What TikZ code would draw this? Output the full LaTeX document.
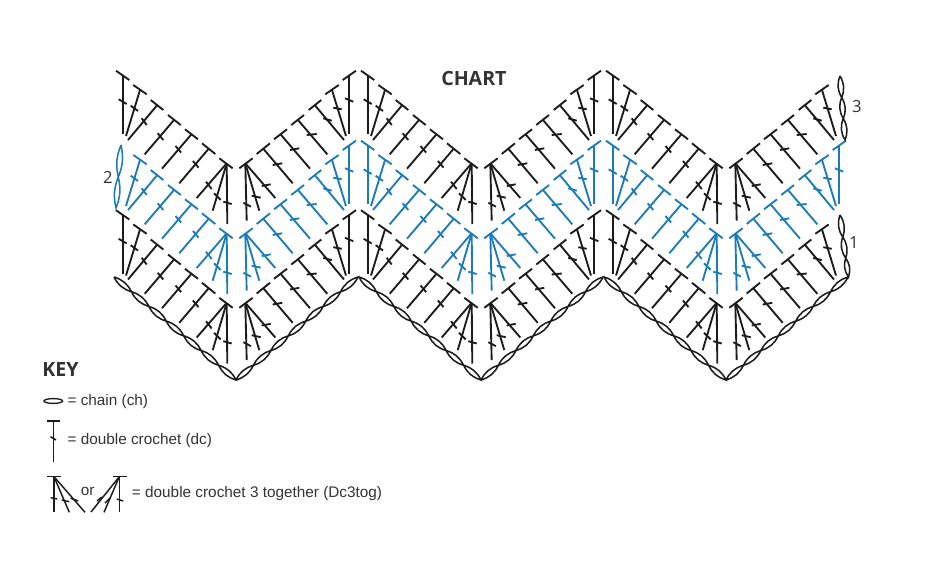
\documentclass[tikz,border=0pt]{standalone}
\usepackage{fontspec}
\setmainfont{Liberation Sans}
\newfontfamily\headfont{Open Sans}
\definecolor{inkblack}{HTML}{1C1C1C}
\definecolor{inkblue}{HTML}{1B7CB8}
\definecolor{inktext}{HTML}{333333}
\newcommand\segs[1]{\foreach \ax/\ay/\bx/\by in {#1}{\draw[stroke] (\ax,\ay) -- (\bx,\by);}}
\newcommand\leftone{\segs{116/70.7/129.3/80, 122.7/75.5/122.7/134, 118.7/99.3/126.7/104}}
\newcommand\rightone{\segs{342.7/80/356/70.7, 349.3/75.5/349.3/134, 345/98.3/353.3/101.7}}
\newcommand\lefthalf{\segs{
 133.3/85/146.7/94.3, 140/90/126/136, 130.7/105.7/138/111,
 150.7/100/163.3/110, 157.3/105/128/140, 141.7/118.3/146.7/125,
 168/115/180.7/125, 174/120/144.7/154.3, 157.7/133.3/163.3/140,
 185/129.3/198/139.3, 191.7/134/162/168.7, 175.5/146/181.1/152.6,
 202/143.3/215.3/154, 208.7/148.7/179.3/183.3, 192.9/161/198.5/167.6,
 219.3/158.3/232.7/168.3, 226.7/163.3/196.7/198, 226.7/163.3/212.7/210.7, 226.7/163.3/227.3/224,
 206/181.7/211.7/189, 214/193.3/220.7/200, 223.3/201.7/231.7/204}}
\newcommand\righthalf{\segs{
 239.3/168.3/252.7/158.3, 245.3/163.3/246.7/220.7, 245.3/163.3/259.3/210.7, 245.3/163.3/275.3/198,
 243.3/202.7/251/206.7, 251.7/195.7/260.7/197.7, 261.7/186/270.7/184.3,
 256.7/154/270/143.3, 263.3/148.7/292.7/183.3, 272.7/165/282.3/163.3,
 274/139.3/287/129.3, 280.3/134/310/168.7, 290/150/299.3/148.3,
 291.3/125/304/115, 298/120/327.3/154.3, 306.7/135/316.7/134,
 308.7/110/321.3/100, 314.7/105/344/140, 323.3/118.3/331.7/120.7,
 325.3/94.3/338.7/85, 332/90/346/136, 333.3/107.7/341.7/109.3}}
\newcommand\lens[5]{\draw[loopline] (#1,#2) to[bend left=#5] (#3,#4) to[bend left=#5] (#1,#2);}
\begin{document}
\begin{tikzpicture}[x=0.75pt,y=-0.75pt,
  stroke/.style={line width=1.4pt,line cap=butt},
  loopline/.style={line width=1.15pt,inkblack},
  keytext/.style={inner sep=0pt,anchor=base west,text=inktext,font=\fontsize{11.5pt}{13pt}\selectfont},
  numlabel/.style={inner sep=0pt,anchor=center,text=inktext,font=\headfont\fontsize{12.5pt}{14pt}\selectfont},
  headlabel/.style={inner sep=0pt,anchor=base west,text=inktext,font=\headfont\bfseries\fontsize{14.7pt}{16pt}\selectfont}]
\useasboundingbox (0,0) rectangle (940,582);
% three rows of stitches
\foreach \rowdy/\rowcol/\rowidx in {0/inkblack/1,70/inkblue/2,139.5/inkblack/3}{
 \begin{scope}[color=\rowcol]
 \foreach \wave in {0,1,2}{
  \begin{scope}[shift={(245*\wave,\rowdy)}]
   \ifnum\rowidx=2 \ifnum\wave>0 \leftone\fi \else \leftone \fi
   \lefthalf
   \righthalf
   \ifnum\rowidx=2 \rightone \else \ifnum\wave<2 \rightone\fi \fi
  \end{scope}}
 \end{scope}}
% foundation chain
\foreach \wave in {0,1,2}{
 \foreach \i in {0,...,6}{
  \pgfmathsetmacro\xa{114+245*\wave+17.43*\i}
  \pgfmathsetmacro\ya{277+14.71*\i}
  \pgfmathsetmacro\xb{\xa+17.43}
  \pgfmathsetmacro\yb{\ya+14.71}
  \lens{\xa}{\ya}{\xb}{\yb}{23}
  \pgfmathsetmacro\xc{236+245*\wave+17.43*\i}
  \pgfmathsetmacro\yc{380-14.71*\i}
  \pgfmathsetmacro\xd{\xc+17.43}
  \pgfmathsetmacro\yd{\yc-14.71}
  \lens{\xc}{\yc}{\xd}{\yd}{23}
 }}
% turning chains
\begin{scope}[color=inkblue]
 \draw[line width=1.15pt] (121,145) to[bend left=17] (118.3,177) to[bend left=17] (121,145);
 \draw[line width=1.15pt] (118.3,177) to[bend left=17] (116,208) to[bend left=17] (118.3,177);
\end{scope}
\lens{840}{76}{841.7}{97.5}{26}
\lens{841.7}{97.5}{843.3}{118.5}{26}
\lens{843.3}{118.5}{845}{140}{26}
\lens{840}{215}{842.7}{237}{26}
\lens{842.7}{237}{845.7}{258}{26}
\lens{845.7}{258}{848.5}{277}{26}
% labels
\node[numlabel] (two) at (108,177) {2};
\node[numlabel] (three) at (857,107) {3};
\node[numlabel] (one) at (854,243) {1};
\node[headlabel] (chart) at (441,85) {CHART};
\node[headlabel] (key) at (42,376.5) {KEY};
% key symbols
\draw[line width=1pt,inkblack] (53.3,401) ellipse [x radius=9.3,y radius=2.4];
\begin{scope}[color=inkblack,stroke/.style={line width=1.1pt}]
 \segs{46.7/421/60/421, 53.3/421/53.3/461.7, 50.5/436.7/56/440}
 \segs{47.3/476.7/60.7/476.7, 54/476.7/54/512.3, 54/476.7/69.3/512.3, 54/476.7/85/512.3,
   50.7/497.7/57.3/499, 61.7/500/69.3/501.7, 70.7/498.3/78.3/501}
 \segs{112.7/476.7/126.7/476.7, 119.3/476.7/119.3/512.3, 119.3/476.7/104/512.3, 119.3/476.7/91/512,
   97/501/101.7/497, 105/503/110/498.3, 116.7/499/123.3/501}
\end{scope}
\node[keytext] (kch) at (67.3,405) {= chain (ch)};
\node[keytext] (kdc) at (67.3,444) {= double crochet (dc)};
\node[keytext] (kor) at (80.7,495) {or};
\node[keytext] (ktog) at (131.7,497.7) {= double crochet 3 together (Dc3tog)};
\end{tikzpicture}
\end{document}
